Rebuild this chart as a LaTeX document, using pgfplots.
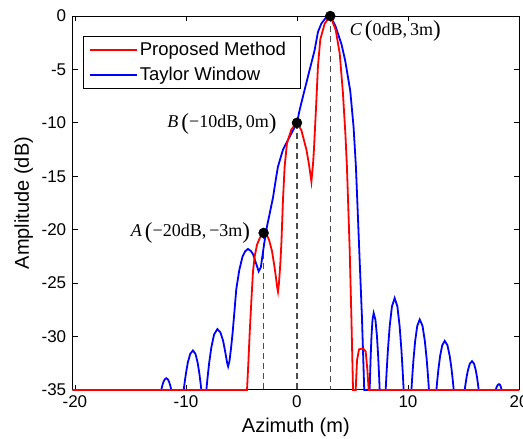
\documentclass[border=0pt]{standalone}
\usepackage{fontspec}
\setmainfont{Liberation Sans}
\newfontfamily\tnr{Liberation Serif}
\usepackage{pgfplots}
\pgfplotsset{compat=1.18}

\newcommand{\bigp}[1]{\raisebox{-1.5pt}{\fontsize{23}{23}\selectfont #1}}

\begin{document}
\begin{tikzpicture}
\begin{axis}[
  scale only axis,
  width=446.3pt, height=374pt,
  xmin=-20.2, xmax=20, ymin=-35, ymax=0,
  xtick={-20,-10,0,10,20},
  ytick={-35,-30,-25,-20,-15,-10,-5,0},
  tick align=inside,
  major tick length=5pt,
  tick style={black, line width=0.8pt},
  axis line style={black, line width=1pt},
  /pgf/number format/assume math mode=true,
  ticklabel style={font=\fontsize{17}{17}\selectfont},
  xticklabel style={yshift=-2pt},
  yticklabel style={xshift=-3pt},
  xlabel={Azimuth (m)},
  ylabel={Amplitude (dB)},
  label style={font=\fontsize{20}{20}\selectfont},
  xlabel style={at={(axis description cs:0.5,0)}, anchor=base, yshift=-43pt},
  ylabel style={at={([xshift=-49pt]axis description cs:0,0.5)}, anchor=center},
  clip=false,
  legend cell align=left,
  legend style={at={(axis description cs:0,1)}, anchor=north west,
    xshift=10pt, yshift=-20pt, draw=black, line width=0.8pt,
    font=\fontsize{18.5}{18.5}\selectfont, inner xsep=6pt, inner ysep=4pt,
    row sep=6pt},
  legend image code/.code={\draw[#1] (0pt,0pt) -- (47pt,0pt);},
]
\addlegendimage{red, line width=1.8pt}
\addlegendentry{Proposed Method\hspace*{6pt}}
\addlegendimage{blue, line width=1.8pt}
\addlegendentry{Taylor Window}

% dashed guides
\addplot[forget plot, gray!60!black, line width=1.2pt, dash pattern=on 6pt off 4pt] coordinates {(-3,-20.3) (-3,-35)};
\addplot[forget plot, gray!60!black, line width=1.2pt, dash pattern=on 6pt off 4pt] coordinates {(0,-10) (0,-35)};
\addplot[forget plot, gray!60!black, line width=1.2pt, dash pattern=on 6pt off 4pt] coordinates {(3,0) (3,-35)};

% Taylor window
\addplot[forget plot, blue, line width=1.8pt] coordinates {
(-20.2,-35) (-12.22,-35)
(-12.175,-34.79) (-12.11,-34.52) (-12.02,-34.23) (-11.905,-34.0) (-11.77,-33.9)
(-11.635,-34.0) (-11.52,-34.23) (-11.43,-34.52) (-11.365,-34.79) (-11.32,-35)
(-10.2,-35)
(-10.117,-34.3) (-9.99,-33.38) (-9.83,-32.42) (-9.62,-31.63) (-9.37,-31.3)
(-9.14,-31.63) (-8.95,-32.42) (-8.80,-33.38) (-8.69,-34.3) (-8.61,-35)
(-8.16,-35)
(-8.061,-33.92) (-7.913,-32.51) (-7.715,-31.02) (-7.467,-29.81) (-7.17,-29.3)
(-6.9,-29.6) (-6.65,-30.4) (-6.45,-31.5) (-6.3,-32.4) (-6.2,-32.8)
(-6.08,-32.3) (-5.95,-31.2) (-5.8,-29.7) (-5.62,-27.5) (-5.47,-25.6)
(-5.2,-23.8) (-4.9,-22.5) (-4.65,-22.0) (-4.41,-21.8) (-4.15,-22.0)
(-3.95,-22.3) (-3.7,-23.1) (-3.45,-23.9) (-3.25,-23.5) (-3.05,-22.0)
(-2.76,-20.0) (-2.5,-18.7) (-2.16,-17.0) (-1.86,-15.0) (-1.71,-14.1)
(-1.26,-12.5) (-0.66,-11.3) (-0.3,-10.6) (0,-10.0) (0.24,-8.8)
(0.69,-6.9) (1.14,-5.05) (1.59,-3.2) (1.89,-1.5) (2.2,-0.7)
(2.65,-0.1) (3,0) (3.45,-0.9) (4.0,-2.6) (4.35,-4.2)
(4.8,-7.0) (5.1,-10.4) (5.31,-14.1) (5.43,-17.2) (5.61,-21.9)
(5.85,-28.1) (6.06,-35)
(6.55,-35)
(6.586,-33.63) (6.64,-31.85) (6.712,-29.98) (6.802,-28.45) (6.91,-27.8)
(7.072,-28.45) (7.207,-29.98) (7.315,-31.85) (7.396,-33.63) (7.45,-35)
(7.99,-35)
(8.071,-33.37) (8.193,-31.24) (8.355,-29.0) (8.557,-27.17) (8.8,-26.4)
(9.043,-27.17) (9.245,-29.0) (9.408,-31.24) (9.529,-33.37) (9.61,-35)
(10.31,-35)
(10.385,-33.75) (10.498,-32.11) (10.648,-30.4) (10.835,-29.0) (11.06,-28.4)
(11.309,-29.0) (11.517,-30.4) (11.683,-32.11) (11.807,-33.75) (11.89,-35)
(12.56,-35)
(12.635,-34.13) (12.748,-32.99) (12.898,-31.79) (13.085,-30.81) (13.31,-30.4)
(13.553,-30.81) (13.755,-31.79) (13.918,-32.99) (14.039,-34.13) (14.12,-35)
(15.11,-35)
(15.176,-34.49) (15.275,-33.82) (15.407,-33.12) (15.572,-32.54) (15.77,-32.3)
(15.95,-32.54) (16.1,-33.12) (16.22,-33.82) (16.31,-34.49) (16.37,-35)
(17.9,-35)
(17.93,-34.9) (17.975,-34.76) (18.035,-34.62) (18.11,-34.5) (18.2,-34.45)
(18.272,-34.5) (18.332,-34.62) (18.38,-34.76) (18.416,-34.9) (18.44,-35)
(20,-35)
};

% proposed method
\addplot[forget plot, red, line width=1.8pt] coordinates {
(-20.2,-35) (-4.5,-35) (-4.38,-32.5) (-4.26,-29.7) (-4.1,-26.5)
(-3.96,-23.9) (-3.81,-22.5) (-3.6,-21.4) (-3.36,-20.8) (-3.0,-20.3)
(-2.75,-20.4) (-2.5,-21.0) (-2.25,-22.0) (-2.05,-23.3) (-1.9,-24.4)
(-1.78,-25.4) (-1.71,-25.8) (-1.62,-25.0) (-1.5,-23.2) (-1.4,-21.2)
(-1.26,-17.2) (-1.11,-14.1) (-0.9,-11.9) (-0.5,-10.6) (0,-10.0)
(0.4,-10.7) (0.85,-12.5) (1.1,-14.0) (1.3,-15.5) (1.45,-13.8)
(1.53,-12.5) (1.75,-7.9) (1.89,-4.7) (2.1,-2.2) (2.5,-0.7)
(3.0,0.0) (3.49,-1.3) (3.85,-3.5) (4.14,-7.2) (4.36,-11.0)
(4.5,-14.1) (4.6,-17.2) (4.75,-21.9) (4.9,-28.1) (5.05,-35)
(5.29,-35) (5.41,-32.2) (5.59,-31.2) (5.95,-31.1) (6.19,-31.4)
(6.34,-33.1) (6.46,-35) (20,-35)
};

% marked points
\addplot[forget plot, only marks, mark=*, mark size=5pt, black] coordinates {(-3,-20.3) (0,-10) (3,0)};

\node[anchor=east, xshift=-10pt, font=\tnr\fontsize{18}{18}\selectfont] at (axis cs:-3,-20.3)
  {\textit{A}\,\bigp{(}−20dB,\,−3m\bigp{)}};
\node[anchor=east, xshift=-17pt, yshift=-1pt, font=\tnr\fontsize{18}{18}\selectfont] at (axis cs:0,-10)
  {\textit{B}\,\bigp{(}−10dB,\,0m\bigp{)}};
\node[anchor=west, xshift=16pt, yshift=-15pt, font=\tnr\fontsize{18}{18}\selectfont] at (axis cs:3,0)
  {\textit{C}\,\bigp{(}0dB,\,3m\bigp{)}};
\end{axis}
\pgfresetboundingbox
\path (current axis.south west) ++(-72.7pt,-49pt) coordinate (bbl);
\path (current axis.north east) ++(4pt,16pt) coordinate (bbr);
\useasboundingbox (bbl) rectangle (bbr);
\end{tikzpicture}
\end{document}
